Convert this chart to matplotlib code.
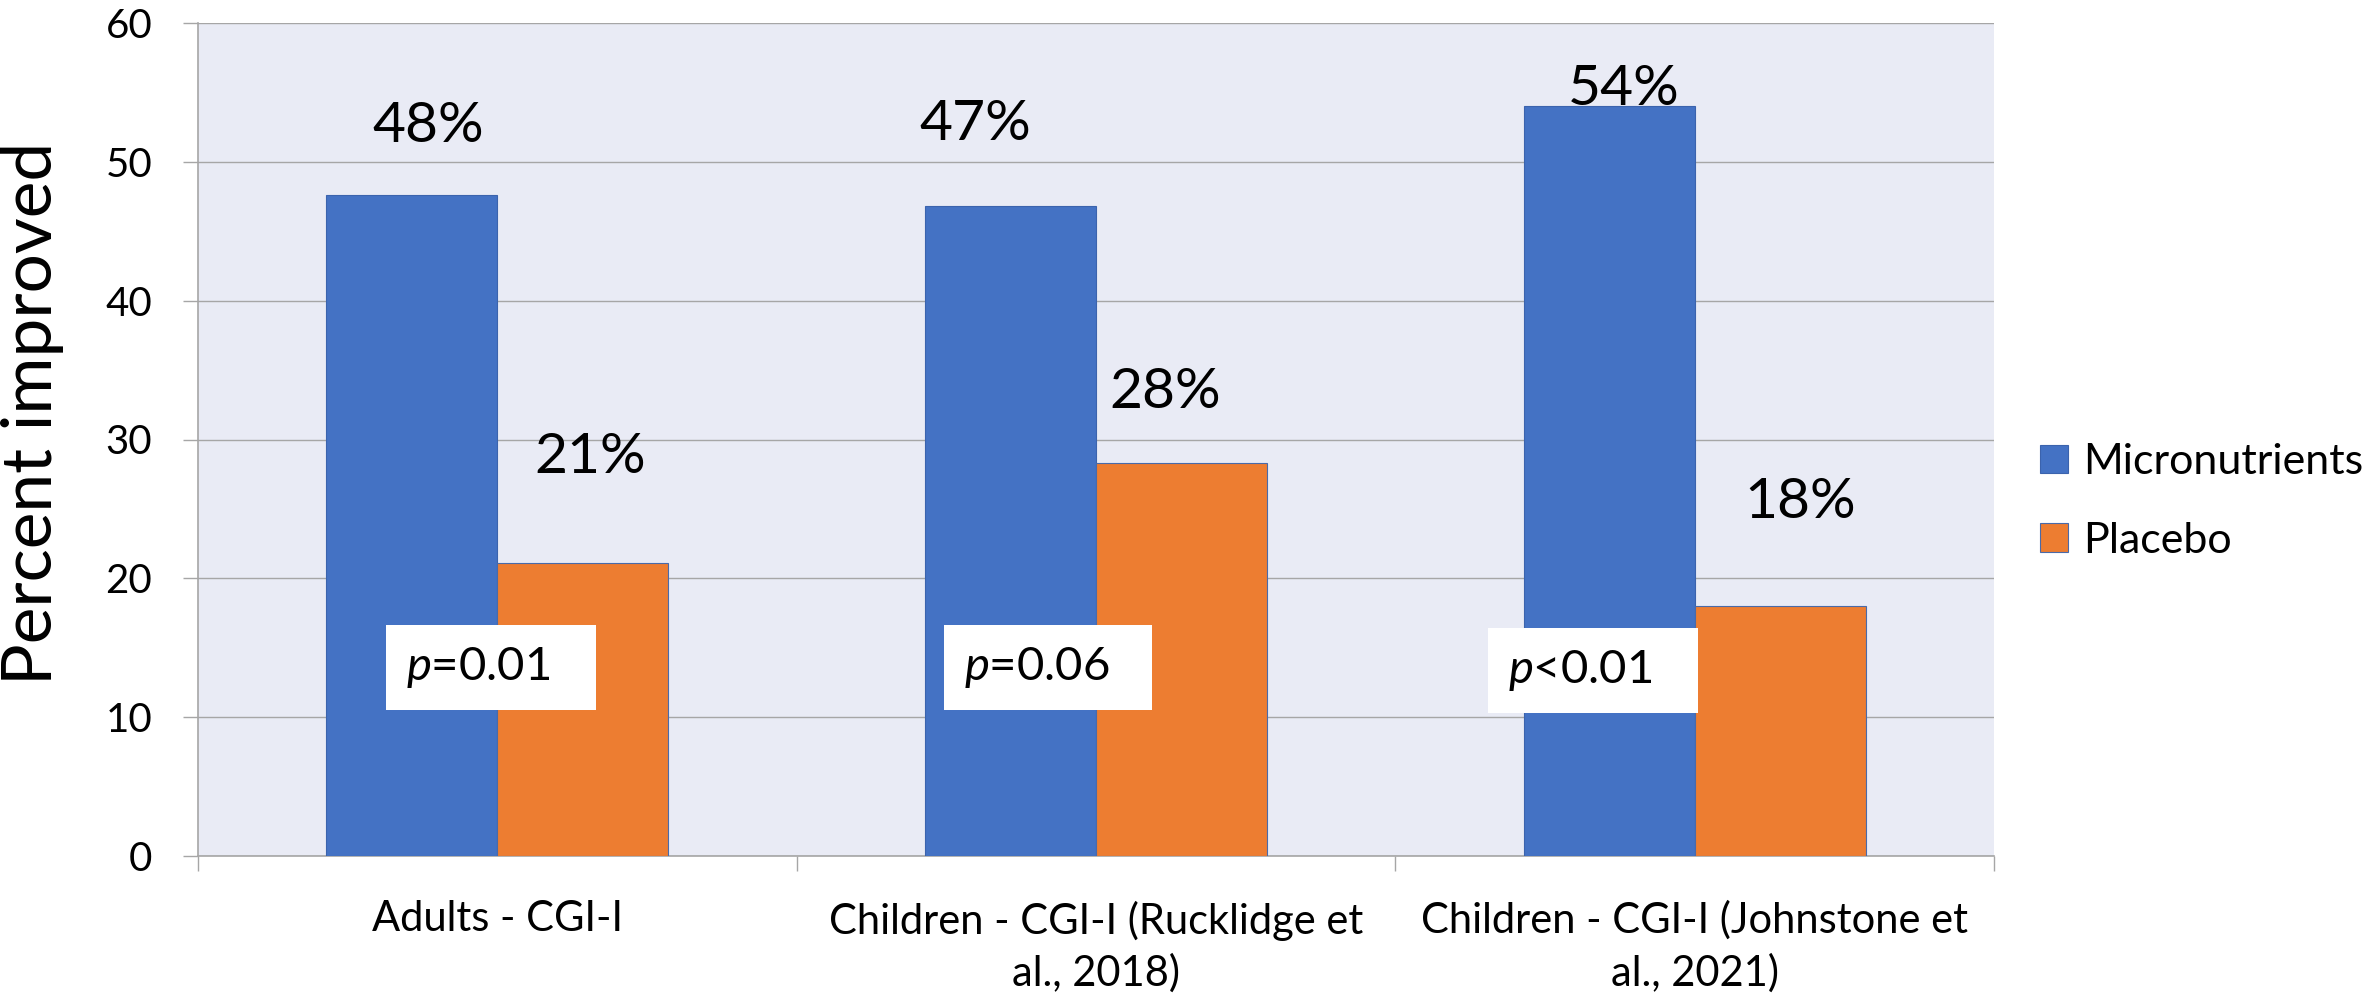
import matplotlib
matplotlib.use("Agg")
import matplotlib.pyplot as plt
import numpy as np

# ---- data ----
categories = [
    "Adults - CGI-I",
    "Children - CGI-I (Rucklidge et\nal., 2018)",
    "Children - CGI-I (Johnstone et\nal., 2021)",
]
micronutrients = [47.6, 46.8, 54.0]
placebo = [21.1, 28.3, 18.0]
p_values = [r"$\it{p}$=0.01", r"$\it{p}$=0.06", r"$\it{p}$<0.01"]
series_names = ["Micronutrients", "Placebo"]
y_ticks = [0, 10, 20, 30, 40, 50, 60]

# ---- layout of the annotations (data units, relative to each bar) ----
label_dx_blue = [0.028, -0.058, 0.025]
label_dy_blue = [3.85, 4.8, 0.1]
label_dx_orange = [0.0125, -0.027, 0.034]
label_dy_orange = [6.5, 4.0, 6.35]
pbox_x = [(-0.1855, 0.1652), (0.7467, 1.0941), (1.6545, 2.0052)]
pbox_y = [(10.52, 16.64), (10.52, 16.64), (10.30, 16.43)]

plt.rcParams["font.family"] = ["Lato", "DejaVu Sans"]
plt.rcParams["mathtext.fontset"] = "custom"
plt.rcParams["mathtext.rm"] = "Lato"
plt.rcParams["mathtext.it"] = "Lato:italic"

BLUE = "#4472C4"
ORANGE = "#ED7D31"
GRID = "#A6A6A6"
BG = "#E9EBF5"

W, H = 2377, 998
fig = plt.figure(figsize=(W / 100, H / 100), dpi=100)
ax = fig.add_axes([198 / W, (H - 856) / H, (1994 - 198) / W, (856 - 23) / H])
ax.set_facecolor(BG)

x = np.arange(len(categories))
bw = 1 / 3.5
b1 = ax.bar(x - bw / 2, micronutrients, bw, color=BLUE, edgecolor="#3B63AD",
            linewidth=0.8, label=series_names[0], zorder=3)
b2 = ax.bar(x + bw / 2, placebo, bw, color=ORANGE, edgecolor="#4A6AA8",
            linewidth=0.8, label=series_names[1], zorder=3)

ax.set_xlim(-0.5, len(categories) - 0.5)
ax.set_ylim(0, 60)

# value labels
for i in range(len(categories)):
    ax.text(x[i] - bw / 2 + label_dx_blue[i], micronutrients[i] + label_dy_blue[i],
            f"{micronutrients[i]:.0f}%", ha="center", va="baseline",
            fontsize=41, color="black", zorder=5)
    ax.text(x[i] + bw / 2 + label_dx_orange[i], placebo[i] + label_dy_orange[i],
            f"{placebo[i]:.0f}%", ha="center", va="baseline",
            fontsize=41, color="black", zorder=5)

# p-value boxes
for (x0, x1), (y0, y1), txt in zip(pbox_x, pbox_y, p_values):
    ax.add_patch(plt.Rectangle((x0, y0), x1 - x0, y1 - y0, facecolor="white",
                               edgecolor="none", zorder=4))
    ax.text(x0 + 0.033, (y0 + y1) / 2, txt, ha="left", va="center",
            fontsize=34, color="black", zorder=5)

# grid & axes styling
ax.set_yticks(y_ticks)
ax.yaxis.grid(True, color=GRID, linewidth=1.0, zorder=0)
ax.set_axisbelow(True)
for s in ["top", "right"]:
    ax.spines[s].set_visible(False)
for s in ["left", "bottom"]:
    ax.spines[s].set_color(GRID)
    ax.spines[s].set_linewidth(1.2)
ax.tick_params(axis="y", length=11, width=1.0, color=GRID, pad=22,
               labelsize=29, labelcolor="black")

ax.set_xticks(x)
ax.set_xticklabels(categories, fontsize=30, linespacing=1.4)
ax.set_xticks(np.arange(-0.5, len(categories), 1.0), minor=True)
ax.tick_params(axis="x", which="major", length=0, pad=32)
ax.tick_params(axis="x", which="minor", length=11, width=1.0, color=GRID)

fig.text(33 / W, (H - 413) / H, "Percent improved", rotation=90,
         ha="center", va="center", fontsize=50, color="black")

leg = fig.legend(handles=[b1, b2], labels=series_names, loc="upper left",
                 bbox_to_anchor=(2040 / W, (H - 443) / H), frameon=False,
                 fontsize=31, handlelength=0.65, handleheight=0.65,
                 handletextpad=0.35, labelspacing=0.95, borderpad=0,
                 borderaxespad=0)

fig.savefig("out.png", dpi=100, facecolor="white")
